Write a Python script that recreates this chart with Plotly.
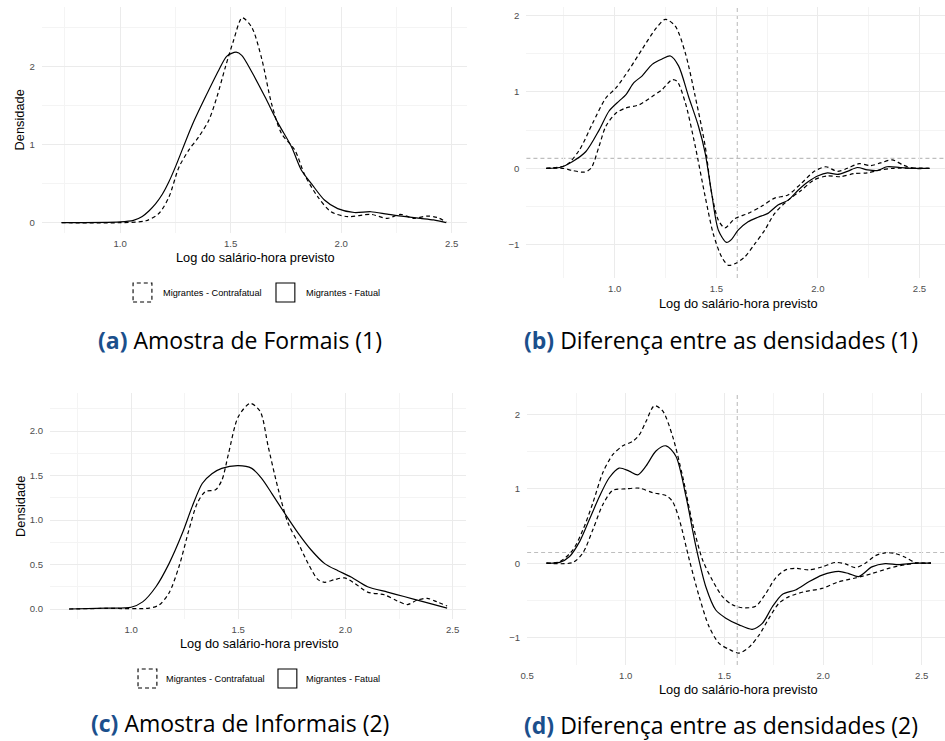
import plotly.graph_objects as go

# ---------------- DATA ----------------
# Panel (a) Amostra de Formais (1)
a_fat_x = [0.735, 1.0, 1.06, 1.1, 1.13, 1.16, 1.19, 1.22, 1.251, 1.326, 1.386, 1.446, 1.483, 1.525, 1.55, 1.595, 1.655, 1.715, 1.775, 1.82, 1.865, 1.924, 1.984, 2.059, 2.134, 2.208, 2.283, 2.358, 2.418, 2.475]
a_fat_y = [0.0, 0.01, 0.03, 0.08, 0.15, 0.24, 0.36, 0.52, 0.72, 1.25, 1.61, 1.95, 2.13, 2.18, 2.14, 1.93, 1.61, 1.27, 0.97, 0.67, 0.50, 0.29, 0.18, 0.13, 0.14, 0.11, 0.08, 0.055, 0.035, 0.0]
a_con_x = [0.735, 1.0, 1.117, 1.176, 1.221, 1.266, 1.311, 1.356, 1.401, 1.438, 1.476, 1.513, 1.552, 1.595, 1.64, 1.685, 1.73, 1.79, 1.835, 1.894, 1.954, 2.029, 2.134, 2.208, 2.268, 2.328, 2.388, 2.433, 2.475]
a_con_y = [0.0, 0.0, 0.025, 0.12, 0.33, 0.71, 0.93, 1.10, 1.31, 1.61, 1.99, 2.33, 2.62, 2.50, 2.10, 1.52, 1.14, 0.93, 0.61, 0.33, 0.14, 0.077, 0.106, 0.055, 0.106, 0.055, 0.085, 0.068, 0.01]

# Panel (b) Diferença entre as densidades (1)
b_mid_x = [0.663, 0.728, 0.793, 0.858, 0.923, 0.972, 1.021, 1.054, 1.094, 1.135, 1.184, 1.233, 1.274, 1.314, 1.363, 1.412, 1.445, 1.477, 1.51, 1.55, 1.575, 1.607, 1.656, 1.705, 1.754, 1.803, 1.852, 1.901, 1.95, 1.998, 2.047, 2.096, 2.145, 2.194, 2.243, 2.292, 2.34, 2.405, 2.47, 2.549]
b_mid_y = [0.0, 0.01, 0.09, 0.22, 0.50, 0.75, 0.88, 0.96, 1.12, 1.21, 1.36, 1.43, 1.47, 1.34, 0.94, 0.55, 0.20, -0.33, -0.81, -0.97, -0.93, -0.81, -0.70, -0.64, -0.59, -0.48, -0.42, -0.29, -0.18, -0.10, -0.06, -0.08, -0.04, 0.01, -0.02, -0.03, 0.02, 0.01, 0.0, 0.0]
b_up_x = [0.663, 0.76, 0.826, 0.891, 0.956, 1.005, 1.07, 1.135, 1.2, 1.249, 1.298, 1.347, 1.396, 1.445, 1.477, 1.51, 1.542, 1.591, 1.656, 1.721, 1.787, 1.852, 1.917, 1.982, 2.039, 2.096, 2.145, 2.202, 2.259, 2.308, 2.365, 2.422, 2.47, 2.549]
b_up_y = [0.0, 0.04, 0.24, 0.59, 0.92, 1.05, 1.29, 1.56, 1.82, 1.95, 1.86, 1.51, 0.94, 0.29, -0.33, -0.68, -0.78, -0.66, -0.59, -0.50, -0.39, -0.35, -0.20, -0.04, 0.02, -0.04, 0.0, 0.06, 0.035, 0.07, 0.11, 0.04, 0.0, 0.0]
b_lo_x = [0.663, 0.744, 0.793, 0.85, 0.883, 0.923, 0.956, 1.005, 1.054, 1.119, 1.184, 1.233, 1.282, 1.306, 1.347, 1.396, 1.445, 1.485, 1.526, 1.559, 1.591, 1.64, 1.689, 1.738, 1.787, 1.852, 1.917, 1.982, 2.047, 2.112, 2.177, 2.243, 2.308, 2.373, 2.549]
b_lo_y = [0.0, 0.0, -0.03, -0.05, 0.0, 0.29, 0.55, 0.72, 0.79, 0.83, 0.94, 1.03, 1.16, 1.14, 0.86, 0.29, -0.37, -0.86, -1.16, -1.27, -1.25, -1.16, -0.99, -0.81, -0.59, -0.42, -0.29, -0.15, -0.10, -0.11, -0.07, -0.06, -0.02, 0.0, 0.0]
b_vline = [1.603]
b_hline = [0.13]

# Panel (c) Amostra de Informais (2)
c_fat_x = [0.711, 0.884, 1.0, 1.054, 1.116, 1.177, 1.239, 1.285, 1.332, 1.377, 1.423, 1.5, 1.563, 1.608, 1.656, 1.718, 1.78, 1.841, 1.903, 1.965, 2.026, 2.103, 2.196, 2.273, 2.366, 2.474]
c_fat_y = [0.0, 0.01, 0.02, 0.08, 0.25, 0.51, 0.85, 1.15, 1.41, 1.52, 1.58, 1.61, 1.58, 1.47, 1.30, 1.07, 0.85, 0.66, 0.51, 0.43, 0.36, 0.25, 0.19, 0.14, 0.08, 0.01]
c_con_x = [0.711, 0.884, 1.085, 1.131, 1.177, 1.224, 1.27, 1.309, 1.347, 1.394, 1.424, 1.455, 1.5, 1.556, 1.602, 1.64, 1.687, 1.733, 1.78, 1.826, 1.872, 1.903, 1.949, 1.995, 2.042, 2.103, 2.181, 2.242, 2.289, 2.335, 2.381, 2.427, 2.474]
c_con_y = [0.0, 0.007, 0.01, 0.045, 0.18, 0.48, 0.89, 1.19, 1.32, 1.34, 1.45, 1.75, 2.16, 2.31, 2.22, 1.82, 1.34, 0.96, 0.74, 0.51, 0.33, 0.30, 0.33, 0.35, 0.29, 0.19, 0.16, 0.09, 0.05, 0.10, 0.12, 0.08, 0.034]

# Panel (d) Diferença entre as densidades (2)
d_mid_x = [0.598, 0.665, 0.715, 0.766, 0.816, 0.867, 0.916, 0.966, 1.017, 1.061, 1.103, 1.153, 1.204, 1.254, 1.305, 1.355, 1.406, 1.456, 1.507, 1.574, 1.641, 1.692, 1.742, 1.793, 1.86, 1.928, 1.995, 2.079, 2.13, 2.18, 2.247, 2.315, 2.382, 2.466, 2.547]
d_mid_y = [0.0, 0.01, 0.09, 0.29, 0.59, 0.90, 1.15, 1.28, 1.24, 1.19, 1.31, 1.51, 1.58, 1.44, 0.90, 0.23, -0.32, -0.63, -0.74, -0.83, -0.89, -0.81, -0.59, -0.42, -0.36, -0.25, -0.16, -0.11, -0.14, -0.18, -0.05, -0.005, -0.02, 0.0, 0.0]
d_up_x = [0.598, 0.665, 0.732, 0.783, 0.833, 0.884, 0.934, 0.985, 1.035, 1.069, 1.103, 1.145, 1.187, 1.237, 1.288, 1.338, 1.389, 1.439, 1.49, 1.54, 1.591, 1.658, 1.709, 1.759, 1.81, 1.86, 1.928, 1.995, 2.062, 2.113, 2.163, 2.214, 2.264, 2.315, 2.365, 2.416, 2.466, 2.547]
d_up_y = [0.0, 0.02, 0.18, 0.45, 0.81, 1.22, 1.46, 1.58, 1.64, 1.73, 1.91, 2.12, 2.05, 1.71, 1.17, 0.54, 0.045, -0.23, -0.45, -0.56, -0.60, -0.58, -0.41, -0.20, -0.09, -0.07, -0.09, -0.05, 0.01, -0.01, -0.06, 0.0, 0.10, 0.14, 0.13, 0.08, 0.01, 0.0]
d_lo_x = [0.598, 0.732, 0.783, 0.833, 0.884, 0.934, 1.0, 1.069, 1.136, 1.204, 1.237, 1.271, 1.322, 1.372, 1.423, 1.473, 1.524, 1.574, 1.625, 1.675, 1.726, 1.776, 1.827, 1.911, 1.995, 2.079, 2.163, 2.247, 2.332, 2.416, 2.483, 2.547]
d_lo_y = [0.0, 0.01, 0.14, 0.45, 0.79, 0.98, 1.0, 1.01, 0.95, 0.91, 0.83, 0.59, 0.045, -0.45, -0.86, -1.08, -1.16, -1.21, -1.13, -0.97, -0.74, -0.54, -0.45, -0.38, -0.34, -0.25, -0.20, -0.14, -0.07, -0.02, 0.0, 0.0]
d_vline = [1.565]
d_hline = [0.143]

legend_labels = ["Migrantes - Contrafatual", "Migrantes - Fatual"]
captions = [("(a)", "Amostra de Formais (1)"), ("(b)", "Diferença entre as densidades (1)"),
            ("(c)", "Amostra de Informais (2)"), ("(d)", "Diferença entre as densidades (2)")]
x_title = "Log do salário-hora previsto"
y_title = "Densidade"

# ---------------- FIGURE ----------------
W, H = 945, 741
def px(x): return x / W
def py(y): return 1 - y / H

fig = go.Figure()
DASH = "4px,3px"
LW = 1.2

def add_line(x, y, xa, ya, dash=None):
    fig.add_trace(go.Scatter(x=x, y=y, xaxis=xa, yaxis=ya, mode="lines",
                             line=dict(color="black", width=LW, dash=dash or "solid", shape="spline", smoothing=0.8),
                             showlegend=False, hoverinfo="skip"))

add_line(a_con_x, a_con_y, "x", "y", DASH)
add_line(a_fat_x, a_fat_y, "x", "y")
add_line(b_up_x, b_up_y, "x2", "y2", DASH)
add_line(b_lo_x, b_lo_y, "x2", "y2", DASH)
add_line(b_mid_x, b_mid_y, "x2", "y2")
add_line(c_con_x, c_con_y, "x3", "y3", DASH)
add_line(c_fat_x, c_fat_y, "x3", "y3")
add_line(d_up_x, d_up_y, "x4", "y4", DASH)
add_line(d_lo_x, d_lo_y, "x4", "y4", DASH)
add_line(d_mid_x, d_mid_y, "x4", "y4")

GRID = "#EBEBEB"
MINOR = "#F4F4F4"
TICKFONT = dict(family="Liberation Sans, Arial, sans-serif", size=9.6, color="#4D4D4D")

def axis(domain, rng, dtick, tick0, mdtick, anchor, fmt, standoff):
    return dict(domain=domain, range=rng, dtick=dtick, tick0=tick0, anchor=anchor,
                showgrid=True, gridcolor=GRID, gridwidth=1, zeroline=False, showline=False,
                ticks="", ticklen=0, tickfont=TICKFONT, tickformat=fmt, ticklabelstandoff=standoff,
                minor=dict(showgrid=True, gridcolor=MINOR, gridwidth=1, dtick=mdtick, tick0=tick0),
                fixedrange=True)

xa = axis([px(35), px(463)], [0.6453, 2.567], 0.5, 0.0, 0.25, "y", ".1f", 3)
ya = axis([py(233), py(7)], [-0.132, 2.758], 1, 0, 0.5, "x", "d", 6)
xb = axis([px(523.3), 1.0], [0.5652, 2.6253], 0.5, 0.0, 0.25, "y2", ".1f", 3)
yb = axis([py(278), py(6.7)], [-1.436, 2.115], 1, 0, 0.5, "x2", "d", 6)
xc = axis([px(43.3), px(462.7)], [0.6218, 2.5634], 0.5, 0.0, 0.25, "y3", ".1f", 3)
yc = axis([py(619.3), py(393.3)], [-0.1157, 2.4236], 0.5, 0, 0.25, "x3", ".1f", 6)
xd = axis([px(524), 1.0], [0.5, 2.6177], 0.5, 0.0, 0.25, "y4", ".1f", 3)
yd = axis([py(665), py(393.3)], [-1.3706, 2.287], 1, 0, 0.5, "x4", "d", 6)

fig.update_layout(xaxis=xa, yaxis=ya, xaxis2=xb, yaxis2=yb, xaxis3=xc, yaxis3=yc, xaxis4=xd, yaxis4=yd)

shapes = []
REF = dict(color="#BEBEBE", width=1.1, dash="4px,3px")
for v in b_vline:
    shapes.append(dict(type="line", xref="x2", yref="y2 domain", x0=v, x1=v, y0=0, y1=1, line=REF, layer="below"))
for h in b_hline:
    shapes.append(dict(type="line", xref="x2 domain", yref="y2", x0=0, x1=1, y0=h, y1=h, line=REF, layer="below"))
for v in d_vline:
    shapes.append(dict(type="line", xref="x4", yref="y4 domain", x0=v, x1=v, y0=0, y1=1, line=REF, layer="below"))
for h in d_hline:
    shapes.append(dict(type="line", xref="x4 domain", yref="y4", x0=0, x1=1, y0=h, y1=h, line=REF, layer="below"))

annotations = []
TITLEFONT = dict(family="Liberation Sans, Arial, sans-serif", size=12.8, color="black")
# axis titles
for cx, cy in [(250, 257), (737, 303), (254, 643), (737, 689)]:
    annotations.append(dict(text=x_title, x=px(cx), y=py(cy), xref="paper", yref="paper",
                            showarrow=False, xanchor="center", yanchor="middle", font=TITLEFONT))
for cx, cy in [(13.5, 120), (13.5, 506.5)]:
    annotations.append(dict(text=y_title, x=px(cx), y=py(cy), xref="paper", yref="paper", textangle=-90,
                            showarrow=False, xanchor="center", yanchor="middle", font=TITLEFONT))

# legends (manual boxes)
LEGFONT = dict(family="Liberation Sans, Arial, sans-serif", size=9.2, color="black")
for (bx, by), (tx1, sx, tx2) in [((127, 283), (155, 271, 299)), ((132, 669), (158, 273, 299))]:
    shapes.append(dict(type="rect", xref="paper", yref="paper", x0=px(bx), x1=px(bx + 19), y0=py(by + 19), y1=py(by),
                       line=dict(color="black", width=1.1, dash="4px,3px")))
    shapes.append(dict(type="rect", xref="paper", yref="paper", x0=px(sx), x1=px(sx + 19), y0=py(by + 19), y1=py(by),
                       line=dict(color="black", width=1.1)))
    annotations.append(dict(text=legend_labels[0], x=px(tx1), y=py(by + 10), xref="paper", yref="paper",
                            showarrow=False, xanchor="left", yanchor="middle", font=LEGFONT))
    annotations.append(dict(text=legend_labels[1], x=px(tx2), y=py(by + 10), xref="paper", yref="paper",
                            showarrow=False, xanchor="left", yanchor="middle", font=LEGFONT))

# captions
CAPFONT = dict(family="Open Sans, sans-serif", size=23, color="black")
for (lab, txt), (cx, cy) in zip(captions, [(234.5, 340), (719.7, 340), (234.5, 723), (719.7, 725)]):
    annotations.append(dict(text=f"<b><span style='color:#1B4F8C'>{lab}</span></b> {txt}",
                            x=px(cx), y=py(cy), xref="paper", yref="paper", showarrow=False,
                            xanchor="center", yanchor="middle", font=CAPFONT))

fig.update_layout(width=W, height=H, margin=dict(l=0, r=0, t=0, b=0),
                  paper_bgcolor="white", plot_bgcolor="white",
                  shapes=shapes, annotations=annotations, showlegend=False)

fig.write_html("out.html")
